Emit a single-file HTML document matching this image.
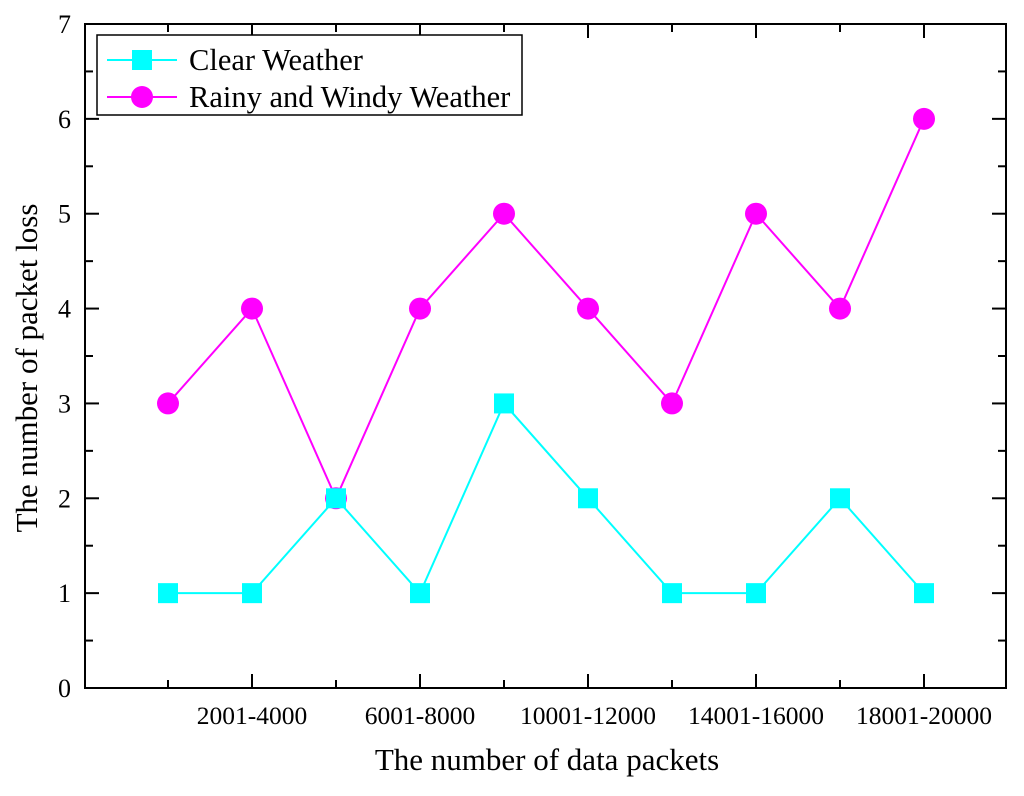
<!DOCTYPE html>
<html><head><meta charset="utf-8"><style>
body{margin:0;background:#fff;}
text{font-family:"Liberation Serif",serif;fill:#000;}
</style></head><body>
<svg id="chart" width="1024" height="791" xmlns="http://www.w3.org/2000/svg">
<g id="grid"></g>
<g id="series"></g>
<g id="legend">
<rect x="97" y="35" width="425" height="80" fill="#fff" stroke="#000" stroke-width="1.5"/>
<g>
<line x1="107" y1="60" x2="177" y2="60" stroke="#00ffff" stroke-width="2"/>
<rect x="132" y="50" width="20" height="20" fill="#00ffff"/>
<text x="189" y="70" font-size="30.5">Clear Weather</text></g>
<g>
<line x1="107" y1="97" x2="177" y2="97" stroke="#ff00ff" stroke-width="2"/>
<circle cx="142" cy="97" r="11" fill="#ff00ff"/>
<text x="189" y="107" font-size="30.5">Rainy and Windy Weather</text></g>
</g>
<text x="547" y="770" font-size="31" text-anchor="middle">The number of data packets</text>
<text transform="translate(37,368) rotate(-90)" font-size="31" text-anchor="middle">The number of packet loss</text>
</svg>
<script>
const categories=["1-2000","2001-4000","4001-6000","6001-8000","8001-10000","10001-12000","12001-14000","14001-16000","16001-18000","18001-20000"];
const clearWeather=[1,1,2,1,3,2,1,1,2,1];
const rainyWeather=[3,4,2,4,5,4,3,5,4,6];
const yTicks=[0,1,2,3,4,5,6,7];
const L=85,R=1006,T=24,B=688;
const xS=i=>84+(i+1)*84;
const yS=v=>B-v*(B-T)/7;
const NS="http://www.w3.org/2000/svg";
function mk(tag,attrs,parent){const e=document.createElementNS(NS,tag);for(const k in attrs)e.setAttribute(k,attrs[k]);parent.appendChild(e);return e;}
const g=document.getElementById('grid'),s=document.getElementById('series');
const frame=mk('rect',{x:L,y:T,width:R-L,height:B-T,fill:'none',stroke:'#000','stroke-width':2},g);


yTicks.forEach(v=>{
  const y=yS(v);
  mk('line',{x1:L,y1:y,x2:L+14,y2:y,stroke:'#000','stroke-width':2},g);
  mk('line',{x1:R,y1:y,x2:R-14,y2:y,stroke:'#000','stroke-width':2},g);
  if(v<7){const ym=yS(v+0.5);
    mk('line',{x1:L,y1:ym,x2:L+8,y2:ym,stroke:'#000','stroke-width':2},g);
    mk('line',{x1:R,y1:ym,x2:R-8,y2:ym,stroke:'#000','stroke-width':2},g);}
  const t=mk('text',{x:L-14,y:y+9,'font-size':26,'text-anchor':'end'},g);t.textContent=v;
  
  
});
categories.forEach((c,i)=>{
  const x=xS(i),major=i%2===1,len=major?14:8;
  mk('line',{x1:x,y1:B,x2:x,y2:B-len,stroke:'#000','stroke-width':2},g);
  mk('line',{x1:x,y1:T,x2:x,y2:T+len,stroke:'#000','stroke-width':2},g);
  if(major){const t=mk('text',{x:x,y:B+36,'font-size':25.5,'text-anchor':'middle'},g);t.textContent=c;
    
    }
});
function series(data,color,name,marker){
  const p=mk('polyline',{points:data.map((v,i)=>xS(i)+','+yS(v)).join(' '),fill:'none',stroke:color,'stroke-width':2},s);
  
  
  data.forEach((v,i)=>{
    let m;
    if(marker==='sq')m=mk('rect',{x:xS(i)-10,y:yS(v)-10,width:20,height:20,fill:color},s);
    else m=mk('circle',{cx:xS(i),cy:yS(v),r:11,fill:color},s);
    
    
  });
}
series(rainyWeather,'#ff00ff','rainy-weather','c');
series(clearWeather,'#00ffff','clear-weather','sq');
</script>
</body></html>
